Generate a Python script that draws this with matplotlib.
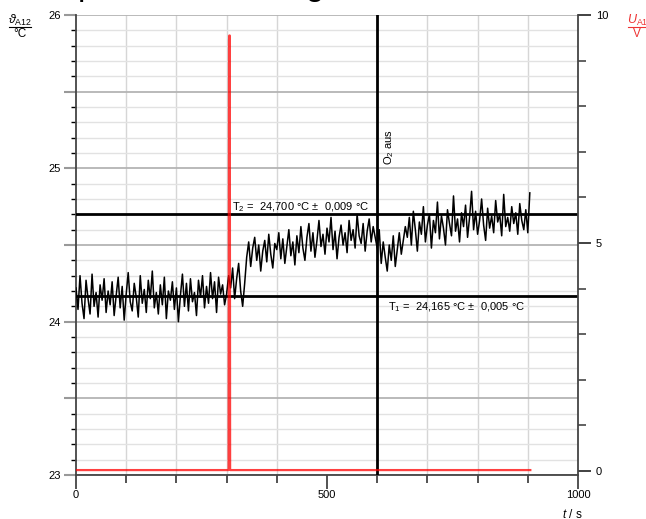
import numpy as np
import matplotlib
matplotlib.use("Agg")
import matplotlib.pyplot as plt
from matplotlib.ticker import MultipleLocator, FixedLocator, FuncFormatter
from matplotlib.lines import Line2D

plt.rcParams['font.family'] = ['Liberation Sans', 'DejaVu Sans']
plt.rcParams['mathtext.fontset'] = 'custom'
plt.rcParams['mathtext.rm'] = 'Liberation Sans'
plt.rcParams['mathtext.it'] = 'Liberation Sans:italic'

# Messwerte: Temperatur (alle 4 s)
t = np.arange(0, 905, 4)
temp = [
    # vor O2-Einleitung
    24.22, 24.08, 24.30, 24.12, 24.02, 24.27, 24.15, 24.05, 24.31, 24.10,
    24.19, 24.03, 24.24, 24.14, 24.28, 24.06, 24.20, 24.11, 24.26, 24.04,
    24.17, 24.29, 24.09, 24.23, 24.01, 24.18, 24.32, 24.13, 24.07, 24.25,
    24.16, 24.03, 24.30, 24.12, 24.21, 24.06, 24.27, 24.15, 24.33, 24.09,
    24.19, 24.05, 24.24, 24.11, 24.29, 24.02, 24.20, 24.14, 24.26, 24.08,
    24.22, 24.00, 24.17, 24.31, 24.10, 24.25, 24.07, 24.28, 24.13, 24.19,
    24.04, 24.27, 24.16, 24.30, 24.09, 24.23, 24.12, 24.32, 24.15, 24.26,
    24.06, 24.29, 24.18, 24.24, 24.11,
    # Anstieg
    24.18, 24.30, 24.22, 24.35, 24.15, 24.28, 24.38, 24.20, 24.10, 24.25,
    24.42, 24.52, 24.36, 24.48, 24.55, 24.40, 24.50, 24.33, 24.46, 24.53,
    24.39, 24.57, 24.44, 24.35, 24.51, 24.47, 24.58, 24.41, 24.54, 24.38,
    24.49, 24.60, 24.43, 24.52, 24.37, 24.56, 24.45, 24.62, 24.48, 24.40,
    24.55, 24.64, 24.46, 24.58, 24.42, 24.53, 24.66, 24.49, 24.57, 24.44,
    24.61, 24.52, 24.68, 24.47, 24.59, 24.41, 24.55, 24.63, 24.50, 24.58,
    24.45, 24.66, 24.53, 24.60, 24.48, 24.70, 24.56, 24.51, 24.64, 24.46,
    24.59, 24.67, 24.52, 24.62, 24.55,
    # nach O2 aus
    24.48, 24.60, 24.38, 24.52, 24.42, 24.33, 24.50, 24.40, 24.56, 24.36,
    24.47, 24.58, 24.44, 24.53, 24.62,
    24.55, 24.68, 24.50, 24.72, 24.60, 24.46, 24.65, 24.57, 24.75, 24.52,
    24.63, 24.70, 24.48, 24.66, 24.58, 24.78, 24.54, 24.69, 24.61, 24.50,
    24.73, 24.64, 24.56, 24.82, 24.59, 24.67, 24.52, 24.71, 24.62, 24.76,
    24.55, 24.68, 24.85, 24.60, 24.72, 24.57, 24.66, 24.80, 24.63, 24.53,
    24.74, 24.61, 24.69, 24.58, 24.79, 24.65, 24.70, 24.56, 24.83, 24.62,
    24.68, 24.59, 24.75, 24.64, 24.71, 24.57, 24.77, 24.66, 24.60, 24.73,
    24.58, 24.84,
]

# Spannung U_A1 (nur Knickpunkte)
t_u = [0, 304, 304.8, 305.4, 306.3, 307, 905]
u = [0.02, 0.02, 9.45, 9.55, 9.55, 0.02, 0.02]

T1 = 24.165
T2 = 24.700
t_aus = 600

fig = plt.figure(figsize=(6.46, 5.19), dpi=100)
ax = fig.add_axes([76/646, 1 - 475/519, 502/646, 460/519])
ax2 = ax.twinx()

ax.set_xlim(0, 1000)
ax.set_ylim(23, 26)
ax2.set_ylim(-0.088, 10)

# Gitter
ax.xaxis.set_major_locator(FixedLocator([0, 500, 1000]))
ax.xaxis.set_minor_locator(MultipleLocator(100))
ax.yaxis.set_major_locator(MultipleLocator(0.5))
ax.yaxis.set_minor_locator(MultipleLocator(0.1))
ax.yaxis.set_major_formatter(FuncFormatter(lambda v, p: '%d' % v if abs(v - round(v)) < 1e-6 else ''))
ax.grid(which='minor', axis='x', color='#d6d6d6', lw=1)
ax.grid(which='minor', axis='y', color='#e2e2e2', lw=1)
ax.grid(which='major', axis='y', color='#b4b4b4', lw=1.3)
ax.set_axisbelow(True)

ax.plot(t, temp, color='black', lw=1.1, zorder=3)
ax.axhline(T1, color='black', lw=2, zorder=4)
ax.axhline(T2, color='black', lw=2, zorder=4)
ax.axvline(t_aus, color='black', lw=2, zorder=4)

ax2.plot(t_u, u, color='red', lw=1.6, alpha=0.75)

ax.text(311, 24.73, r'T$_2$ =  24,700 °C ±  0,009 °C', fontsize=8, va='baseline', ha='left')
ax.text(622, 24.14, r'T$_1$ =  24,165 °C ±  0,005 °C', fontsize=8, va='top', ha='left')
ax.text(610, 25.02, r'O$_2$ aus', fontsize=8, rotation=90, rotation_mode='anchor',
        ha='left', va='top')

# Achsen-Stil
ax.spines['top'].set_visible(False)
ax2.spines['top'].set_visible(False)
for sp in [ax.spines['left'], ax.spines['bottom'], ax2.spines['right']]:
    sp.set_color('#444444')
    sp.set_linewidth(1.3)
ax2.spines['left'].set_visible(False)
ax2.spines['bottom'].set_visible(False)
ax.spines['right'].set_visible(False)

ax.tick_params(axis='x', which='major', direction='out', length=10, width=1.3, color='#444444', labelsize=8, pad=1)
ax.tick_params(axis='x', which='minor', direction='out', length=6, width=1.3, color='#444444')
ax.tick_params(axis='y', which='major', direction='out', length=9, width=1.5, color='#999999', labelsize=8, pad=2)
ax.tick_params(axis='y', which='minor', direction='out', length=3.5, width=1, color='black')

ax2.yaxis.set_major_locator(FixedLocator([0, 5, 10]))
ax2.yaxis.set_minor_locator(MultipleLocator(1))
ax2.tick_params(axis='y', which='major', direction='out', length=9, width=1.3, color='#333333', labelsize=8, pad=4)
ax2.tick_params(axis='y', which='minor', direction='out', length=6, width=1.3, color='#555555')

# Achsenbeschriftungen
fig.text(20/646, 1 - 20/519, r'$\vartheta_{\mathrm{A12}}$', fontsize=9, ha='center', va='center')
fig.add_artist(Line2D([9/646, 31/646], [1 - 27/519, 1 - 27/519], color='black', lw=0.8))
fig.text(20/646, 1 - 34/519, '°C', fontsize=8.5, ha='center', va='center')

fig.text(638/646, 1 - 20/519, r'$U_{\mathrm{A1}}$', fontsize=9, ha='center', va='center', color='#ee3333')
fig.add_artist(Line2D([628/646, 648/646], [1 - 27/519, 1 - 27/519], color='#ee3333', lw=0.8))
fig.text(637/646, 1 - 34/519, 'V', fontsize=8.5, ha='center', va='center', color='#ee3333')

fig.text(572/646, 1 - 515/519, r'$t$ / s', fontsize=8.5, ha='center', va='center')

# Titel (oben abgeschnitten)
fig.text(15/646, 1 + 4.5/519, 'Temperaturänderung', fontsize=24, va='baseline', ha='left')

fig.savefig('out.png', dpi=100)
